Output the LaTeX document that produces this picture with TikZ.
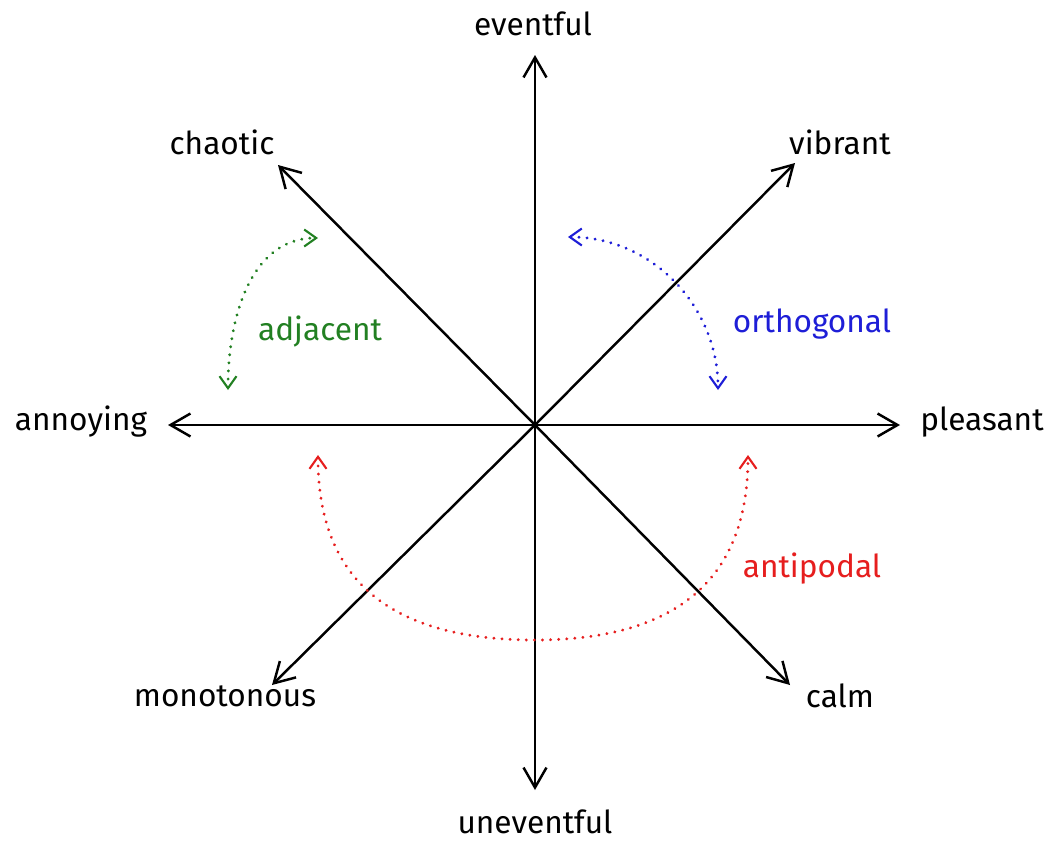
\documentclass[tikz,border=0pt]{standalone}
\usepackage{fontspec}
\setmainfont{Fira Sans}
\usepackage{tikz}
\usetikzlibrary{arrows.meta, positioning}
\definecolor{tnGreen}{RGB}{34,128,34}
\definecolor{tnBlue}{RGB}{30,30,215}
\definecolor{tnRed}{RGB}{230,30,30}

\begin{document}
\begin{tikzpicture}[
  x=0.02cm, y=-0.02cm,
  font=\fontsize{18}{21}\selectfont,
  axis/.style={{Straight Barb[length=4mm, width=4.6mm, line width=1.4pt]}-, line width=1.4pt, black},
  rel/.style={{Straight Barb[length=2.4mm, width=3.4mm, line width=1.2pt]}-{Straight Barb[length=2.4mm, width=3.4mm, line width=1.2pt]},
              line width=1.8pt, line cap=round, dash pattern=on 0.01pt off 4.6pt},
  lbl/.style={inner sep=1pt},
]
\useasboundingbox (0,0) rectangle (1052,842);

% axis end points
\coordinate (o) at (535,425);
\coordinate (n) at (535,55);
\coordinate (s) at (535,790);
\coordinate (w) at (168,425);
\coordinate (e) at (900,425);
\coordinate (nw) at (278,165);
\coordinate (ne) at (795,163);
\coordinate (sw) at (272,685);
\coordinate (se) at (790,685);

\draw[axis] (n) -- (o);
\draw[axis] (s) -- (o);
\draw[axis] (w) -- (o);
\draw[axis] (e) -- (o);
\draw[axis] (nw) -- (o);
\draw[axis] (ne) -- (o);
\draw[axis] (sw) -- (o);
\draw[axis] (se) -- (o);

\node[lbl] (eventful) at (533,24) {eventful};
\node[lbl] (uneventful) at (535,822) {uneventful};
\node[lbl] (annoying) at (81,422) {annoying};
\node[lbl] (pleasant) at (982,422) {pleasant};
\node[lbl] (chaotic) at (222,142) {chaotic};
\node[lbl] (vibrant) at (840,142) {vibrant};
\node[lbl] (monotonous) at (225,696) {monotonous};
\node[lbl] (calm) at (840,696) {calm};

% relations
\coordinate (g1) at (228,390);
\coordinate (g2) at (318,238);
\coordinate (b1) at (568,237);
\coordinate (b2) at (718,390);
\coordinate (r1) at (318,455);
\coordinate (r2) at (748,455);
\coordinate (rb) at (535,640);

\draw[rel, tnGreen] (g1) to[out=90, in=180] (g2);
\draw[rel, tnBlue] (b1) to[out=0, in=90] (b2);
\draw[rel, tnRed] (r1) to[out=-90, in=180, looseness=1.2] (rb) to[out=0, in=-90, looseness=1.2] (r2);

\node[lbl, text=tnGreen] (adjacent) at (320,332) {adjacent};
\node[lbl, text=tnBlue] (orthogonal) at (812,324) {orthogonal};
\node[lbl, text=tnRed] (antipodal) at (812,569) {antipodal};
\end{tikzpicture}
\end{document}
